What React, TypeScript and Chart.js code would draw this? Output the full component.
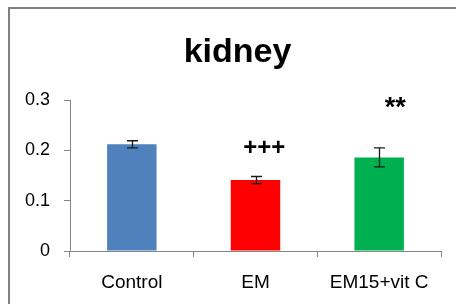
import React, { useEffect, useRef } from "react";
import { Chart, registerables } from "chart.js";

Chart.register(...registerables);

const titleText = "kidney";
const categories = ["Control", "EM", "EM15+vit C"];
const means = [0.212, 0.141, 0.186];
const errors = [0.007, 0.007, 0.019];
const barColors = ["#4F81BD", "#FF0000", "#00B050"];
const yMin = 0;
const yMax = 0.3;
const yStep = 0.1;
const markLabels = ["+++", "**"];
const markX = [1.07, 2.13];
const markY = [0.203, 0.29];

const FONT = "'Liberation Sans', Arial, sans-serif";

const decorPlugin = {
  id: "decor",
  beforeDraw(chart: any) {
    const ctx = chart.ctx;
    ctx.save();
    ctx.fillStyle = "#ffffff";
    ctx.fillRect(0, 0, chart.width, chart.height);
    ctx.restore();
  },
  afterDraw(chart: any) {
    const ctx = chart.ctx;
    const xs = chart.scales.x;
    const ys = chart.scales.y;
    ctx.save();
    // frame
    ctx.strokeStyle = "#808080";
    ctx.lineWidth = 2;
    ctx.beginPath();
    ctx.moveTo(9, chart.height);
    ctx.lineTo(9, 8);
    ctx.lineTo(chart.width, 8);
    ctx.stroke();
    // title
    ctx.fillStyle = "#000";
    ctx.font = `bold 34px ${FONT}`;
    ctx.textAlign = "center";
    ctx.textBaseline = "alphabetic";
    ctx.fillText(titleText, 237.5, 62);
    // error bars
    ctx.strokeStyle = "#1a1a1a";
    ctx.lineWidth = 1.3;
    const meta = chart.getDatasetMeta(0);
    meta.data.forEach((bar: any, i: number) => {
      const x = Math.round(bar.x) + 0.5;
      const yt = ys.getPixelForValue(means[i] + errors[i]);
      const yb = ys.getPixelForValue(means[i] - errors[i]);
      ctx.beginPath();
      ctx.moveTo(x, yt);
      ctx.lineTo(x, yb);
      ctx.moveTo(x - 5.5, yt);
      ctx.lineTo(x + 5.5, yt);
      ctx.moveTo(x - 5.5, yb);
      ctx.lineTo(x + 5.5, yb);
      ctx.stroke();
    });
    // significance marks
    ctx.fillStyle = "#000";
    ctx.textBaseline = "middle";
    markLabels.forEach((lab, i) => {
      ctx.font = lab === "**" ? `bold 27px ${FONT}` : `bold 24px ${FONT}`;
      const px = xs.getPixelForValue(markX[i]);
      const py = ys.getPixelForValue(markY[i]);
      ctx.fillText(lab, px, lab === "**" ? py + 4 : py);
    });
    ctx.restore();
  },
};

export default function App() {
  const ref = useRef<HTMLCanvasElement>(null);
  useEffect(() => {
    if (!ref.current) return;
    const chart = new Chart(ref.current, {
      type: "bar",
      data: {
        labels: categories,
        datasets: [
          {
            data: means,
            backgroundColor: barColors,
            borderWidth: 0,
            barPercentage: 0.4,
            categoryPercentage: 1,
          },
        ],
      },
      options: {
        responsive: false,
        animation: false,
        devicePixelRatio: 1,
        layout: { padding: { left: 0, right: 15, top: 100, bottom: 0 } },
        plugins: {
          legend: { display: false },
          title: { display: false },
          tooltip: { enabled: false },
        },
        scales: {
          x: {
            offset: true,
            grid: {
              offset: true,
              drawOnChartArea: false,
              drawTicks: true,
              tickLength: 6,
              color: "#868686",
            },
            border: { color: "#868686", width: 1 },
            ticks: {
              color: "#000",
              font: { family: FONT, size: 19 },
              padding: 14,
            },
            afterFit: (s: any) => {
              s.height = 53;
            },
          },
          y: {
            min: yMin,
            max: yMax,
            grid: {
              drawOnChartArea: false,
              drawTicks: true,
              tickLength: 6,
              color: "#868686",
            },
            border: { color: "#868686", width: 1 },
            ticks: {
              stepSize: yStep,
              color: "#000",
              font: { family: FONT, size: 18 },
              padding: 14,
              callback: (v: any) => String(Number(Number(v).toFixed(1))),
            },
            afterFit: (s: any) => {
              s.width = 70;
            },
          },
        },
      },
      plugins: [decorPlugin],
    });
    return () => chart.destroy();
  }, []);
  return (
    <div style={{ position: "fixed", left: 0, top: 0, width: 456, height: 304 }}>
      <canvas ref={ref} width={456} height={304} style={{ display: "block" }} />
    </div>
  );
}
